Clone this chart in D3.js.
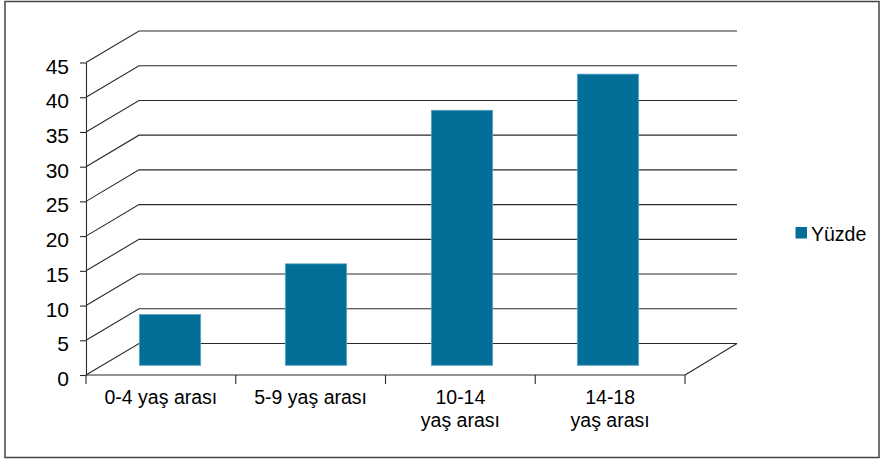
<!DOCTYPE html>
<html>
<head>
<meta charset="utf-8">
<script src="https://cdn.jsdelivr.net/npm/d3@7"></script>
<style>
  html, body { margin: 0; padding: 0; background: #fff; }
  svg { display: block; font-family: "Liberation Sans", Arial, Helvetica, sans-serif; }
</style>
</head>
<body>
<svg id="chart" width="881" height="460"></svg>
<script>
const categories = ["0-4 yaş arası", "5-9 yaş arası", "10-14 yaş arası", "14-18 yaş arası"];
const values = [7.3, 14.6, 36.7, 41.9];
const yTicks = [0, 5, 10, 15, 20, 25, 30, 35, 40, 45];
const seriesName = "Yüzde";

const barColor = "#036e98";
const lineColor = "#2a2a2a";

const svg = d3.select("#chart");

// outer border
svg.append("rect")
  .attr("x", 5).attr("y", 1.5).attr("width", 874).attr("height", 456)
  .attr("fill", "#fff").attr("stroke", "#444").attr("stroke-width", 1.5);

// 3D geometry
const depthDx = 53, depthDy = -31.5;
const backRight = 737;

const yFront = d3.scaleLinear().domain([0, 45]).range([375, 62.5]);
const yBar = d3.scaleLinear().domain([0, 45]).range([365.3, 52.6]);
const xFront = d3.scaleBand().domain(categories).range([86, 685]);
const xBar = d3.scaleBand().domain(categories).range([97, 681])
  .paddingInner(0.58).paddingOuter(0.29);

const x0 = xFront.range()[0], x1 = xFront.range()[1];

// gridlines (side wall diagonals + back wall horizontals)
const grid = svg.append("g").attr("fill", "none").attr("stroke", lineColor).attr("stroke-width", 1.1);
grid.selectAll("path.grid").data(yTicks).join("path")
  .attr("class", "grid")
  .attr("d", t => {
    const yf = yFront(t);
    return `M${x0},${yf}L${x0 + depthDx},${yf + depthDy}L${backRight},${yf + depthDy}`;
  });

// floor right edge
grid.append("path")
  .attr("d", `M${x1},${yFront(0)}L${backRight},${yFront(0) + depthDy}`);

// bars
svg.append("g").selectAll("rect").data(values).join("rect")
  .attr("x", (d, i) => xBar(categories[i]))
  .attr("width", xBar.bandwidth())
  .attr("y", d => yBar(d))
  .attr("height", d => yBar(0) - yBar(d))
  .attr("fill", barColor)
  .attr("stroke", "#5aa3c4")
  .attr("stroke-width", 0.8);

// left axis
const yAxis = svg.append("g")
  .attr("transform", `translate(${x0},0)`)
  .call(d3.axisLeft(yFront).tickValues(yTicks).tickSize(6).tickSizeOuter(0).tickPadding(11));
yAxis.select(".domain").attr("stroke", lineColor).attr("stroke-width", 1.1);
yAxis.selectAll(".tick line").attr("stroke", lineColor).attr("stroke-width", 1.1);
yAxis.selectAll(".tick text")
  .attr("dy", "0.5em")
  .attr("fill", "#000")
  .style("font-size", "21px")
  .style("font-family", "'Liberation Sans', Arial, sans-serif");

// bottom axis (front floor edge) with boundary ticks
const xAxisG = svg.append("g");
xAxisG.append("line")
  .attr("x1", x0).attr("x2", x1)
  .attr("y1", yFront(0)).attr("y2", yFront(0))
  .attr("stroke", lineColor).attr("stroke-width", 1.1);
const boundaries = categories.map(c => xFront(c)).concat([x1]);
xAxisG.selectAll("line.tk").data(boundaries).join("line")
  .attr("class", "tk")
  .attr("x1", d => d).attr("x2", d => d)
  .attr("y1", yFront(0)).attr("y2", yFront(0) + 9)
  .attr("stroke", lineColor).attr("stroke-width", 1.1);

// category labels with wrapping
const labelSize = 19.5;
const labels = xAxisG.selectAll("text.cat").data(categories).join("text")
  .attr("class", "cat")
  .attr("text-anchor", "middle")
  .attr("fill", "#000")
  .style("font-size", labelSize + "px")
  .attr("x", d => xFront(d) + xFront.bandwidth() / 2)
  .attr("y", 404);

labels.each(function(d) {
  const t = d3.select(this);
  const cx = xFront(d) + xFront.bandwidth() / 2;
  t.text(d);
  if (this.getComputedTextLength() > 125) {
    const idx = d.indexOf(" ");
    const lines = [d.slice(0, idx), d.slice(idx + 1)];
    t.text(null);
    lines.forEach((ln, k) => {
      t.append("tspan").attr("x", cx).attr("dy", k === 0 ? 0 : 23).text(ln);
    });
  }
});

// legend
const legend = svg.append("g");
legend.append("rect")
  .attr("x", 795.5).attr("y", 227).attr("width", 11.5).attr("height", 11.5)
  .attr("fill", barColor);
legend.append("text")
  .attr("x", 811).attr("y", 241)
  .attr("fill", "#000")
  .style("font-size", "19.5px")
  .text(seriesName);
</script>
</body>
</html>
